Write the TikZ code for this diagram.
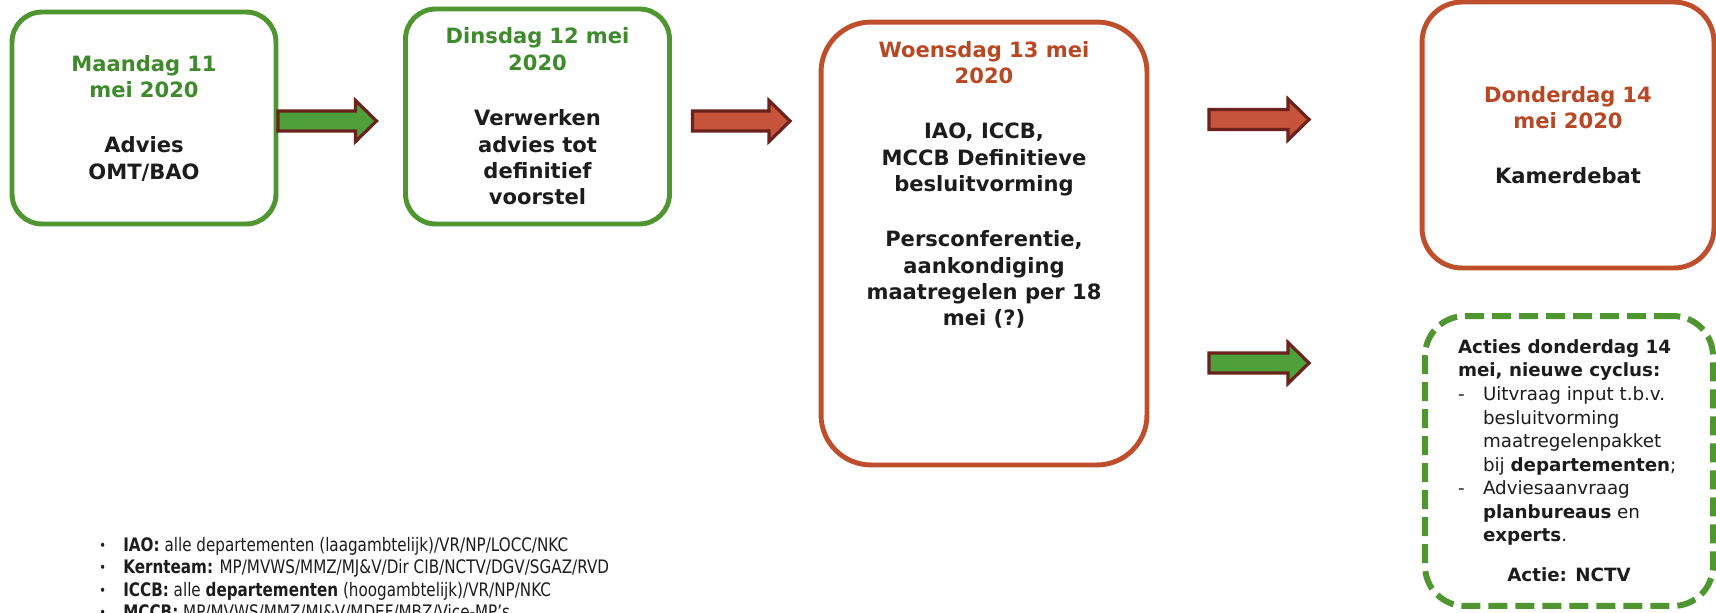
\documentclass[tikz,border=0pt]{standalone}
\usepackage{fontspec}
\setmainfont{DejaVu Sans}
\newfontfamily\lijstfont[FakeStretch=0.815]{DejaVu Sans}
\usetikzlibrary{calc}

\definecolor{groenrand}{RGB}{80,150,48}
\definecolor{groentekst}{RGB}{62,138,44}
\definecolor{roodrand}{RGB}{190,78,44}
\definecolor{roodtekst}{RGB}{184,72,36}
\definecolor{pijlrand}{RGB}{108,34,28}
\definecolor{pijlrood}{RGB}{198,84,58}
\definecolor{pijlgroen}{RGB}{78,160,58}
\definecolor{tekst}{RGB}{28,28,28}

\newcommand\titel{\fontsize{12}{15}\selectfont\bfseries}
\newcommand\actiefont{\fontsize{10.4}{13.4}\selectfont}
\newcommand\punt{\makebox[0.48cm][l]{\fontsize{8}{8}\selectfont\raisebox{0.8pt}{•}}}

\tikzset{
  dag/.style={draw=#1, line width=2.8pt, rounded corners=0.6cm, inner sep=0pt,
    outer sep=0pt, align=center, font=\titel, text=tekst},
  lijst/.style={font=\lijstfont\fontsize{10.6}{12.8}\selectfont, align=left,
    inner sep=0pt, text=tekst},
  pijl/.style={draw=pijlrand, line width=1.8pt, fill=#1, to path={
      let \p1=(\tikztostart), \p2=(\tikztotarget) in
      (\x1,\y1+0.2cm) -- (\x2-0.42cm,\y1+0.2cm) -- (\x2-0.42cm,\y1+0.41cm)
      -- (\x2,\y1) -- (\x2-0.42cm,\y1-0.41cm) -- (\x2-0.42cm,\y1-0.2cm)
      -- (\x1,\y1-0.2cm) -- cycle}},
}

\begin{document}
\begin{tikzpicture}[x=0.02cm,y=-0.02cm]
\useasboundingbox (0,0) rectangle (1716,612);

% de dagen
\node[dag=groenrand, text width=4.6cm, minimum width=5.28cm, minimum height=4.24cm] (ma) at (144,118)
  {{\color{groentekst}Maandag 11\\mei 2020}\\[0.58cm]Advies\\OMT/BAO};
\node[dag=groenrand, text width=4.6cm, minimum width=5.28cm, minimum height=4.3cm] (di) at (537.5,116.5)
  {{\color{groentekst}Dinsdag 12 mei\\2020}\\[0.58cm]Verwerken\\advies tot\\definitief\\voorstel};
\node[dag=roodrand, rounded corners=1cm, minimum width=6.52cm, minimum height=8.86cm] (wo) at (984,243.5)
  {\parbox[c][8.1cm][t]{6cm}{\centering{\color{roodtekst}Woensdag 13 mei\\2020}\\[0.58cm]
   IAO, ICCB,\\MCCB Definitieve\\besluitvorming\\[0.58cm]
   Persconferentie,\\aankondiging\\maatregelen per 18\\mei (?)}};
\node[dag=roodrand, rounded corners=0.8cm, text width=5cm, minimum width=5.84cm, minimum height=5.32cm] (do) at (1568,135)
  {{\color{roodtekst}Donderdag 14\\mei 2020}\\[0.58cm]Kamerdebat};
\node[dag=groenrand, dash pattern=on 0.38cm off 0.16cm, line width=3.4pt, rounded corners=0.8cm,
  font=\actiefont, minimum width=5.76cm, minimum height=5.8cm] (acties) at (1569,461)
  {\parbox[c][4.86cm][t]{4.44cm}{\raggedright
   \textbf{Acties donderdag 14}\\\textbf{mei, nieuwe cyclus:}\\
   \makebox[0.5cm][l]{-}Uitvraag input t.b.v.\\
   \hspace*{0.5cm}besluitvorming\\
   \hspace*{0.5cm}maatregelenpakket\\
   \hspace*{0.5cm}bij \textbf{departementen};\\
   \makebox[0.5cm][l]{-}Adviesaanvraag\\
   \hspace*{0.5cm}\textbf{planbureaus} en\\
   \hspace*{0.5cm}\textbf{experts}.\par\vspace{0.33cm}
   \centering\textbf{Actie: NCTV}}};

% pijlen
\draw[pijl=pijlgroen] ($(ma.east |- 0,121)+(2,0)$) to ($(di.west)-(29,0)$);
\draw[pijl=pijlrood] ($(di.east |- 0,121)+(23,0)$) to ($(wo.west)-(31,0)$);
\draw[pijl=pijlrood] ($(wo.east |- 0,119.5)+(62,0)$) to ($(do.west)-(113,0)$);
\draw[pijl=pijlgroen] ($(wo.east |- 0,363)+(62,0)$) to ($(acties.west)-(116,0)$);

% overleggen
\node[lijst, anchor=north west] (leden) at (99,537)
  {\punt\textbf{IAO:} alle departementen (laagambtelijk)/VR/NP/LOCC/NKC\\
   \punt\textbf{Kernteam:} MP/MVWS/MMZ/MJ\&V/Dir CIB/NCTV/DGV/SGAZ/RVD\\
   \punt\textbf{ICCB:} alle \textbf{departementen} (hoogambtelijk)/VR/NP/NKC\\
   \punt\textbf{MCCB:} MP/MVWS/MMZ/MJ\&V/MDEF/MBZ/Vice-MP’s};
\end{tikzpicture}
\end{document}
